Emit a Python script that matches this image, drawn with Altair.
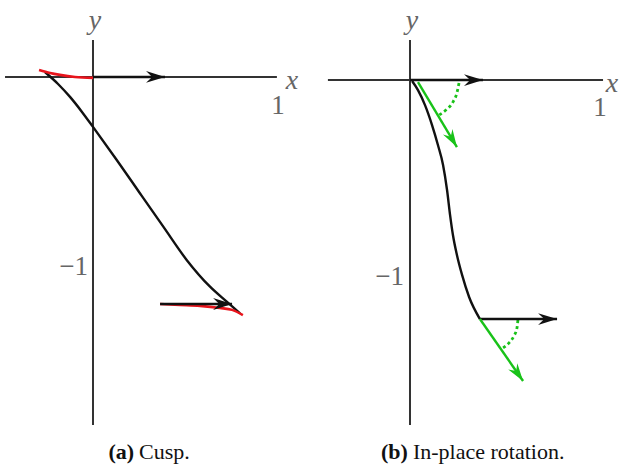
import altair as alt
import pandas as pd

# ---------------- Panel (a): Cusp (axis units) ----------------
A_XAXIS_X = [-0.463, 0.968]
A_YAXIS_Y = [0.195, -1.832]
A_CURVE_X = [-0.253, -0.184, -0.121, -0.058, 0.0, 0.125, 0.247, 0.370, 0.493, 0.616, 0.704, 0.774]
A_CURVE_Y = [0.026, -0.037, -0.105, -0.184, -0.263, -0.437, -0.612, -0.788, -0.963, -1.104, -1.183, -1.244]
A_RED_TOP_X = [-0.284, -0.226, -0.174, -0.095, 0.0]
A_RED_TOP_Y = [0.037, 0.021, 0.011, 0.0, -0.005]
A_RED_BOT_X = [0.353, 0.458, 0.563, 0.668, 0.732, 0.789]
A_RED_BOT_Y = [-1.195, -1.200, -1.205, -1.216, -1.226, -1.253]
A_ARROW_X0 = [0.0, 0.353]
A_ARROW_Y0 = [0.0, -1.195]
A_ARROW_X1 = [0.379, 0.732]
A_ARROW_Y1 = [0.0, -1.195]

# ---------------- Panel (b): In-place rotation ----------------
B_XAXIS_X = [-0.432, 1.016]
B_YAXIS_Y = [0.211, -1.816]
B_CURVE_X = [0.011, 0.042, 0.079, 0.116, 0.147, 0.174, 0.195, 0.211, 0.226, 0.247, 0.274, 0.311, 0.368]
B_CURVE_Y = [-0.005, -0.053, -0.132, -0.237, -0.342, -0.447, -0.579, -0.711, -0.816, -0.921, -1.026, -1.142, -1.258]
B_BLACK_X0 = [0.0, 0.368]
B_BLACK_Y0 = [0.0, -1.258]
B_BLACK_X1 = [0.384, 0.774]
B_BLACK_Y1 = [0.0, -1.258]
B_GREEN_X0 = [0.042, 0.368]
B_GREEN_Y0 = [-0.011, -1.258]
B_GREEN_X1 = [0.247, 0.595]
B_GREEN_Y1 = [-0.353, -1.584]
B_GREEN_ANGLE = [59, 55]
B_ARC1_X = [0.258, 0.247, 0.226, 0.189, 0.153]
B_ARC1_Y = [-0.016, -0.068, -0.116, -0.158, -0.184]
B_ARC2_X = [0.568, 0.563, 0.547, 0.521, 0.489]
B_ARC2_Y = [-1.263, -1.305, -1.347, -1.384, -1.411]

BLACK = "#111111"
AXIS_C = "#333333"
RED = "#e8141c"
GREEN = "#19c219"
LABEL_C = "#666666"
HEAD = "M0,0 L-2,-0.62 L-1.35,0 L-2,0.62 Z"
SERIF = "'Liberation Serif', 'DejaVu Serif', serif"


def panel(width, xdom, ydom, xaxis_x, yaxis_y, segs, curves, heads,
          var_labels, num_labels, neg_label, cap_bold, cap_text, cap_xy):
    H = 471
    xs = alt.Scale(domain=xdom, nice=False, zero=False)
    ys = alt.Scale(domain=ydom, nice=False, zero=False)
    X = lambda f="x": alt.X(f"{f}:Q", scale=xs, axis=None)
    Y = lambda f="y": alt.Y(f"{f}:Q", scale=ys, axis=None)

    axes_df = pd.DataFrame({
        "x": [xaxis_x[0], 0.0], "y": [0.0, yaxis_y[0]],
        "x2": [xaxis_x[1], 0.0], "y2": [0.0, yaxis_y[1]],
    })
    layers = [alt.Chart(axes_df).mark_rule(color=AXIS_C, strokeWidth=2).encode(
        x=X(), y=Y(), x2="x2:Q", y2="y2:Q")]

    for (df, color, w, dash, interp) in curves:
        mk = dict(color=color, strokeWidth=w, interpolate=interp)
        if dash:
            mk["strokeDash"] = dash
        layers.append(alt.Chart(df).mark_line(**mk).encode(x=X(), y=Y(), order="o:Q"))

    for (df, color, w) in segs:
        layers.append(alt.Chart(df).mark_rule(color=color, strokeWidth=w).encode(
            x=X(), y=Y(), x2="x2:Q", y2="y2:Q"))

    for (df, color, size) in heads:
        layers.append(alt.Chart(df).mark_point(
            shape=HEAD, filled=True, opacity=1, color=color, size=size, strokeWidth=0
        ).encode(x=X(), y=Y(), angle=alt.Angle("a:Q", scale=None)))

    vl = pd.DataFrame(var_labels, columns=["x", "y", "t"])
    layers.append(alt.Chart(vl).mark_text(
        font=SERIF, fontStyle="italic", fontSize=28, color=LABEL_C,
        align="center", baseline="middle").encode(x=X(), y=Y(), text="t:N"))

    nl = pd.DataFrame(num_labels, columns=["x", "y", "t"])
    layers.append(alt.Chart(nl).mark_text(
        font=SERIF, fontSize=27, color=LABEL_C,
        align="center", baseline="middle").encode(x=X(), y=Y(), text="t:N"))

    ng = pd.DataFrame([neg_label], columns=["x", "y", "t"])
    layers.append(alt.Chart(ng).mark_text(
        font=SERIF, fontSize=27, color=LABEL_C,
        align="right", baseline="middle").encode(x=X(), y=Y(), text="t:N"))

    cb = pd.DataFrame({"x": [cap_xy[0]], "y": [cap_xy[1]], "t": [cap_bold]})
    ct = pd.DataFrame({"x": [cap_xy[0]], "y": [cap_xy[1]], "t": [cap_text]})
    layers.append(alt.Chart(cb).mark_text(
        font=SERIF, fontWeight="bold", fontSize=22, color="#111111",
        align="right", baseline="middle").encode(x=X(), y=Y(), text="t:N"))
    layers.append(alt.Chart(ct).mark_text(
        font=SERIF, fontSize=22, color="#111111",
        align="left", baseline="middle", dx=5).encode(x=X(), y=Y(), text="t:N"))

    return alt.layer(*layers).properties(width=width, height=H)


def line_df(xs, ys):
    return pd.DataFrame({"x": xs, "y": ys, "o": list(range(len(xs)))})


# Panel (a)
a_segs = pd.DataFrame({"x": A_ARROW_X0, "y": A_ARROW_Y0, "x2": A_ARROW_X1, "y2": A_ARROW_Y1})
a_heads = pd.DataFrame({"x": A_ARROW_X1, "y": A_ARROW_Y1, "a": [0, 0]})
panel_a = panel(
    313, [-0.4895, 1.158], [-2.074, 0.405], A_XAXIS_X, A_YAXIS_Y,
    segs=[(a_segs, BLACK, 2.4)],
    curves=[(line_df(A_CURVE_X, A_CURVE_Y), BLACK, 2.4, None, "monotone"),
            (line_df(A_RED_TOP_X, A_RED_TOP_Y), RED, 2.6, None, "monotone"),
            (line_df(A_RED_BOT_X, A_RED_BOT_Y), RED, 2.6, None, "monotone")],
    heads=[(a_heads, BLACK, 360)],
    var_labels=[(0.011, 0.295, "y"), (1.047, -0.021, "x")],
    num_labels=[(0.974, -0.155, "1")],
    neg_label=(-0.026, -1.0, "\u22121"),
    cap_bold="(a)", cap_text="Cusp.", cap_xy=(0.216, -1.974),
)

# Panel (b)
b_black = pd.DataFrame({"x": B_BLACK_X0, "y": B_BLACK_Y0, "x2": B_BLACK_X1, "y2": B_BLACK_Y1})
b_green = pd.DataFrame({"x": B_GREEN_X0, "y": B_GREEN_Y0, "x2": B_GREEN_X1, "y2": B_GREEN_Y1})
b_bheads = pd.DataFrame({"x": B_BLACK_X1, "y": B_BLACK_Y1, "a": [0, 0]})
b_gheads = pd.DataFrame({"x": B_GREEN_X1, "y": B_GREEN_Y1, "a": B_GREEN_ANGLE})
panel_b = panel(
    314, [-0.5105, 1.1421], [-2.0579, 0.4211], B_XAXIS_X, B_YAXIS_Y,
    segs=[(b_black, BLACK, 2.4), (b_green, GREEN, 2.4)],
    curves=[(line_df(B_CURVE_X, B_CURVE_Y), BLACK, 2.4, None, "monotone"),
            (line_df(B_ARC1_X, B_ARC1_Y), GREEN, 2.8, [3, 3], "monotone"),
            (line_df(B_ARC2_X, B_ARC2_Y), GREEN, 2.8, [3, 3], "monotone")],
    heads=[(b_bheads, BLACK, 360), (b_gheads, GREEN, 320)],
    var_labels=[(0.011, 0.311, "y"), (1.063, -0.021, "x")],
    num_labels=[(1.0, -0.147, "1")],
    neg_label=(-0.032, -1.037, "\u22121"),
    cap_bold="(b)", cap_text="In-place rotation.", cap_xy=(-0.011, -1.958),
)

chart = alt.hconcat(panel_a, panel_b, spacing=0).properties(
    padding=0, background="white"
).configure_view(stroke=None)

chart.save("out.html", embed_options={"renderer": "svg", "actions": False})
